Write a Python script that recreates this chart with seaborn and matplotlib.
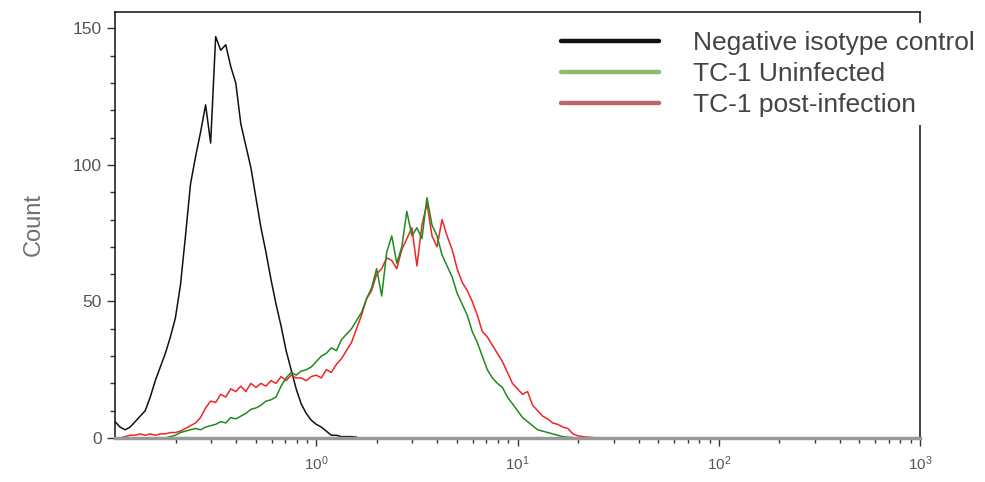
import numpy as np
import pandas as pd
import matplotlib
matplotlib.use('Agg')
import matplotlib.pyplot as plt
from matplotlib.lines import Line2D
from matplotlib.ticker import FixedLocator, NullFormatter
import seaborn as sns

sns.set_style('ticks')
plt.rcParams['font.family'] = ['Liberation Sans', 'DejaVu Sans']
plt.rcParams['mathtext.fontset'] = 'custom'
plt.rcParams['mathtext.rm'] = 'Liberation Sans'
plt.rcParams['mathtext.it'] = 'Liberation Sans'

# Channel grid: 40 channels per decade, starting at 10^-1
start_log = -1.0
channels_per_decade = 40

# Counts per channel
black_counts = [6, 4, 3, 4, 6, 8, 10, 15, 21, 26, 31, 37, 44, 56, 74, 93, 103, 112,
                122, 108, 147, 142, 144, 136, 130, 115, 107, 99, 88, 77, 68, 58, 49,
                41, 32, 25, 18, 12.5, 9, 6.5, 5, 4, 2.5, 1, 1, 0.5, 0.5, 0.5, 0.3]

red_counts = [0, 0, 0.5, 1, 1, 1.5, 1, 1.5, 1, 1.5, 1.5, 2, 2, 2.5, 3.5, 4.5, 5.5, 7.5,
              11, 13.5, 13, 16, 15, 18, 17, 19, 17, 20, 18.5, 20, 19, 21, 20, 22.5, 21,
              23, 22, 22, 21, 22.5, 23, 22, 25, 24, 27, 29, 32, 35, 40, 45, 51, 54, 60,
              62, 66, 65, 62, 69, 73, 77, 63, 78, 86, 74, 70, 80, 74, 69, 62, 57, 54,
              50, 45, 39, 37, 34, 31, 28, 24, 20, 18, 16, 17, 12, 10, 8, 7, 5.5, 5, 4,
              3.5, 1.5, 0.8, 0.5, 0.3, 0.2]

green_counts = [0, 0, 0, 0, 0, 0, 0, 0, 0, 0, 0, 0.5, 1, 2, 2.5, 3, 3.5, 3, 4, 4.5,
                5, 6, 5.5, 7.5, 7, 8, 9, 10.5, 11, 12, 13.5, 14, 15, 19, 22, 24, 23,
                24.5, 25, 26, 28, 30, 31, 33, 32, 36, 38, 40, 43, 46, 51, 55, 62, 52,
                68, 74, 64, 70, 83, 74, 77, 73, 88, 78, 74, 67, 63, 59, 53, 49, 45, 39,
                35, 30, 25, 22, 20, 18.5, 15, 12.5, 10, 7.5, 6, 4.5, 3, 2.5, 2, 1.5, 1,
                0.5, 0.3, 0.2]

samples = ['Negative isotype control', 'TC-1 Uninfected', 'TC-1 post-infection']
line_colors = ['#111111', '#1f8a22', '#f22424']
legend_colors = ['#111111', '#8cbc6c', '#c0646a']

xtick_values = [1, 10, 100, 1000]
xtick_labels = ['$10^{0}$', '$10^{1}$', '$10^{2}$', '$10^{3}$']
ytick_values = [0, 50, 100, 150]


def to_frame(counts, name):
    idx = np.arange(len(counts))
    intensity = 10 ** (start_log + idx / channels_per_decade)
    return pd.DataFrame({'intensity': intensity, 'count': counts, 'sample': name})


df = pd.concat([to_frame(black_counts, samples[0]),
                to_frame(red_counts, samples[2]),
                to_frame(green_counts, samples[1])], ignore_index=True)

fig = plt.figure(figsize=(9.85, 4.82), dpi=100)
ax = fig.add_axes([0.1168, 0.0913, 0.8172, 0.8838])

sns.lineplot(data=df, x='intensity', y='count', hue='sample',
             hue_order=[samples[0], samples[2], samples[1]],
             palette=[line_colors[0], line_colors[2], line_colors[1]],
             estimator=None, sort=False, linewidth=1.1, legend=False, ax=ax)

ax.set_xscale('log')
ax.set_xlim(0.1, 1000)
ax.set_ylim(0, 156)

ax.xaxis.set_major_locator(FixedLocator(xtick_values))
ax.xaxis.set_ticklabels(xtick_labels)
minor_x = [m * 10.0 ** d for d in range(-1, 3) for m in range(2, 10)]
ax.xaxis.set_minor_locator(FixedLocator(minor_x))
ax.xaxis.set_minor_formatter(NullFormatter())
ax.yaxis.set_major_locator(FixedLocator(ytick_values))
ax.yaxis.set_minor_locator(FixedLocator(list(range(10, 160, 10))))

ax.tick_params(which='major', direction='out', length=6, width=1, color='#333333',
               labelcolor='#555555', labelsize=12.5)
ax.tick_params(axis='x', which='major', labelsize=11, pad=6)
ax.tick_params(which='minor', direction='out', length=3.5, width=1, color='#333333')

ax.set_xlabel('')
ax.set_ylabel('Count', fontsize=17, color='#707070', labelpad=20)

for side in ['left', 'top', 'right']:
    ax.spines[side].set_color('#111111')
    ax.spines[side].set_linewidth(1.1)
ax.spines['bottom'].set_color('#999999')
ax.spines['bottom'].set_linewidth(2.5)

handles = [Line2D([0], [0], color=c, lw=3.2) for c in legend_colors]
leg = ax.legend(handles, samples, loc='upper right',
                bbox_to_anchor=(983 / 985, 1 - 23 / 482),
                bbox_transform=fig.transFigure, frameon=True, fontsize=19,
                handlelength=3.7, handletextpad=1.3, labelspacing=0.27,
                borderpad=0.3, borderaxespad=0, labelcolor='#444444')
leg.get_frame().set_facecolor('white')
leg.get_frame().set_edgecolor('none')
leg.get_frame().set_alpha(1)

fig.savefig('out.png', dpi=100)
